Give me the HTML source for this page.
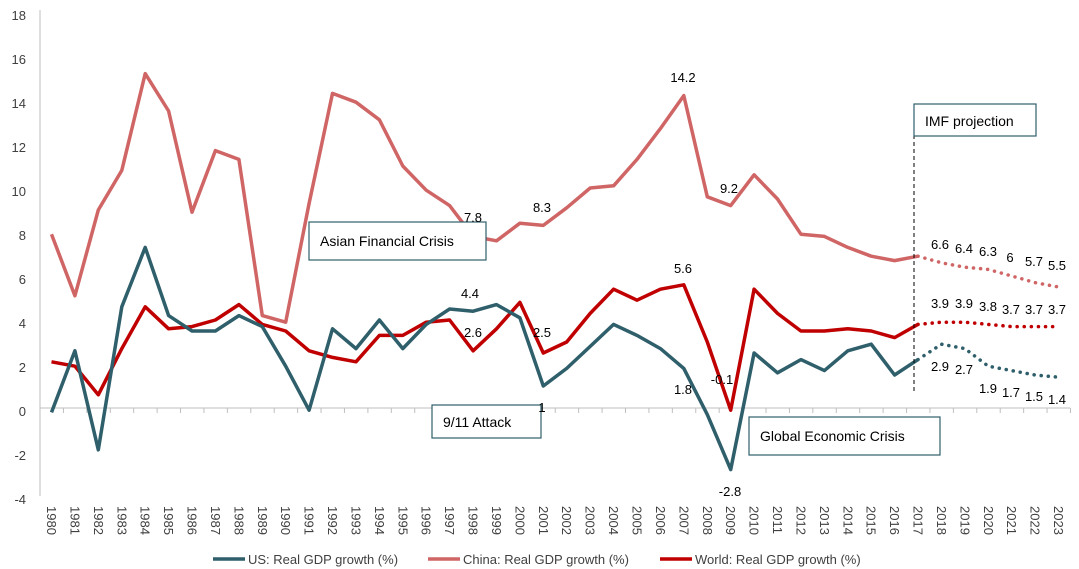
<!DOCTYPE html>
<html><head><meta charset="utf-8"><style>
body{margin:0;background:#fff}
svg{display:block;font-family:"Liberation Sans",sans-serif}
.t{font-size:13px;fill:#000}
.ax{font-size:13px;fill:#404040}
</style></head><body>
<svg id="s" width="1079" height="569" viewBox="0 0 1079 569" xmlns="http://www.w3.org/2000/svg">
<line x1="40" y1="10" x2="40" y2="496" stroke="#bfbfbf"/>
<line x1="40" y1="408" x2="1070" y2="408" stroke="#bfbfbf"/>
<g id="ticks" stroke="#bfbfbf"></g>
<g class="ax" text-anchor="end">
<text x="26" y="20">18</text><text x="26" y="64">16</text><text x="26" y="108">14</text><text x="26" y="152">12</text><text x="26" y="196">10</text><text x="26" y="240">8</text><text x="26" y="284">6</text><text x="26" y="328">4</text><text x="26" y="372">2</text><text x="26" y="416">0</text><text x="26" y="460">-2</text><text x="26" y="504">-4</text>
</g>
<g id="lines"></g>
<line x1="914" y1="135" x2="914" y2="392" stroke="#000" stroke-dasharray="4,3"/>
<g fill="#fff" stroke="#2f5f6b" stroke-width="1.2">
<rect x="309" y="222" width="177" height="38"/>
<rect x="432" y="405" width="109" height="33"/>
<rect x="749" y="417" width="191" height="38"/>
<rect x="914" y="104" width="122" height="32"/>
</g>
<g class="t">
<text x="320" y="246" style="font-size:14px">Asian Financial Crisis</text>
<text x="443" y="427" style="font-size:14px">9/11 Attack</text>
<text x="760" y="441" style="font-size:14px">Global Economic Crisis</text>
<text x="925" y="126" style="font-size:14px">IMF projection</text>
</g>
<g class="t" text-anchor="middle">
<text x="473" y="222">7.8</text><text x="542" y="212">8.3</text><text x="683" y="82">14.2</text><text x="729" y="193">9.2</text>
<text x="470" y="298">4.4</text><text x="683" y="273">5.6</text><text x="473" y="337">2.6</text><text x="542" y="337">2.5</text>
<text x="722" y="384">-0.1</text><text x="683" y="394">1.8</text><text x="542" y="412">1</text><text x="730" y="496">-2.8</text>
<text x="940" y="249">6.6</text><text x="964" y="253">6.4</text><text x="988" y="256">6.3</text><text x="1010" y="262">6</text><text x="1034" y="266">5.7</text><text x="1057" y="270">5.5</text>
<text x="940" y="308">3.9</text><text x="964" y="308">3.9</text><text x="988" y="311">3.8</text><text x="1011" y="314">3.7</text><text x="1034" y="314">3.7</text><text x="1057" y="314">3.7</text>
<text x="940" y="371">2.9</text><text x="964" y="374">2.7</text><text x="988" y="393">1.9</text><text x="1011" y="397">1.7</text><text x="1034" y="401">1.5</text><text x="1057" y="404">1.4</text>
</g>
<g class="ax" dominant-baseline="central">
<text transform="translate(51.5,506) rotate(90)">1980</text><text transform="translate(74.9,506) rotate(90)">1981</text><text transform="translate(98.3,506) rotate(90)">1982</text><text transform="translate(121.8,506) rotate(90)">1983</text><text transform="translate(145.2,506) rotate(90)">1984</text><text transform="translate(168.6,506) rotate(90)">1985</text><text transform="translate(192,506) rotate(90)">1986</text><text transform="translate(215.4,506) rotate(90)">1987</text><text transform="translate(238.9,506) rotate(90)">1988</text><text transform="translate(262.3,506) rotate(90)">1989</text><text transform="translate(285.7,506) rotate(90)">1990</text><text transform="translate(309.1,506) rotate(90)">1991</text><text transform="translate(332.5,506) rotate(90)">1992</text><text transform="translate(356,506) rotate(90)">1993</text><text transform="translate(379.4,506) rotate(90)">1994</text><text transform="translate(402.8,506) rotate(90)">1995</text><text transform="translate(426.2,506) rotate(90)">1996</text><text transform="translate(449.6,506) rotate(90)">1997</text><text transform="translate(473.1,506) rotate(90)">1998</text><text transform="translate(496.5,506) rotate(90)">1999</text><text transform="translate(519.9,506) rotate(90)">2000</text><text transform="translate(543.3,506) rotate(90)">2001</text><text transform="translate(566.7,506) rotate(90)">2002</text><text transform="translate(590.2,506) rotate(90)">2003</text><text transform="translate(613.6,506) rotate(90)">2004</text><text transform="translate(637,506) rotate(90)">2005</text><text transform="translate(660.4,506) rotate(90)">2006</text><text transform="translate(683.8,506) rotate(90)">2007</text><text transform="translate(707.3,506) rotate(90)">2008</text><text transform="translate(730.7,506) rotate(90)">2009</text><text transform="translate(754.1,506) rotate(90)">2010</text><text transform="translate(777.5,506) rotate(90)">2011</text><text transform="translate(800.9,506) rotate(90)">2012</text><text transform="translate(824.4,506) rotate(90)">2013</text><text transform="translate(847.8,506) rotate(90)">2014</text><text transform="translate(871.2,506) rotate(90)">2015</text><text transform="translate(894.6,506) rotate(90)">2016</text><text transform="translate(918,506) rotate(90)">2017</text><text transform="translate(941.5,506) rotate(90)">2018</text><text transform="translate(964.9,506) rotate(90)">2019</text><text transform="translate(988.3,506) rotate(90)">2020</text><text transform="translate(1011.7,506) rotate(90)">2021</text><text transform="translate(1035.1,506) rotate(90)">2022</text><text transform="translate(1058.6,506) rotate(90)">2023</text>
</g>
<g stroke-width="3.5">
<line x1="213" y1="559" x2="245" y2="559" stroke="#2f5f6b"/>
<line x1="428" y1="559" x2="460" y2="559" stroke="#d06565"/>
<line x1="660" y1="559" x2="692" y2="559" stroke="#c00000"/>
</g>
<g class="ax">
<text x="248" y="564">US: Real GDP growth (%)</text>
<text x="463" y="564">China: Real GDP growth (%)</text>
<text x="695" y="564">World: Real GDP growth (%)</text>
</g>
</svg>
<script>
(function(){
var NS="http://www.w3.org/2000/svg";
function X(i){return 51.5+i*23.42}function Y(v){return 408-22*v}
var t=document.getElementById("ticks");
for(var k=0;k<=44;k++){var l=document.createElementNS(NS,"line");var x=40+k*23.42;l.setAttribute("x1",x);l.setAttribute("x2",x);l.setAttribute("y1",408);l.setAttribute("y2",413);t.appendChild(l);}
var us=[-0.2,2.6,-1.9,4.6,7.3,4.2,3.5,3.5,4.2,3.7,1.9,-0.1,3.6,2.7,4.0,2.7,3.8,4.5,4.4,4.7,4.1,1.0,1.8,2.8,3.8,3.3,2.7,1.8,-0.3,-2.8,2.5,1.6,2.2,1.7,2.6,2.9,1.5,2.2,2.9,2.7,1.9,1.7,1.5,1.4];
var cn=[7.9,5.1,9.0,10.8,15.2,13.5,8.9,11.7,11.3,4.2,3.9,9.3,14.3,13.9,13.1,11.0,9.9,9.2,7.8,7.6,8.4,8.3,9.1,10.0,10.1,11.3,12.7,14.2,9.6,9.2,10.6,9.5,7.9,7.8,7.3,6.9,6.7,6.9,6.6,6.4,6.3,6.0,5.7,5.5];
var wd=[2.1,1.9,0.6,2.7,4.6,3.6,3.7,4.0,4.7,3.8,3.5,2.6,2.3,2.1,3.3,3.3,3.9,4.0,2.6,3.6,4.8,2.5,3.0,4.3,5.4,4.9,5.4,5.6,3.0,-0.1,5.4,4.3,3.5,3.5,3.6,3.5,3.2,3.8,3.9,3.9,3.8,3.7,3.7,3.7];
var g=document.getElementById("lines");
function pl(d,a,b,c,dash){var p=[];for(var i=a;i<=b;i++)p.push(X(i).toFixed(1)+","+Y(d[i]).toFixed(1));var e=document.createElementNS(NS,"polyline");e.setAttribute("points",p.join(" "));e.setAttribute("fill","none");e.setAttribute("stroke",c);e.setAttribute("stroke-width","3.5");e.setAttribute("stroke-linejoin","round");if(dash){e.setAttribute("stroke-dasharray","0.1,7");e.setAttribute("stroke-linecap","round");}g.appendChild(e);}
[[cn,"#d06565"],[wd,"#c00000"],[us,"#2f5f6b"]].forEach(function(s){pl(s[0],0,37,s[1],false);pl(s[0],37,43,s[1],true);});
})();
</script>
</body></html>
